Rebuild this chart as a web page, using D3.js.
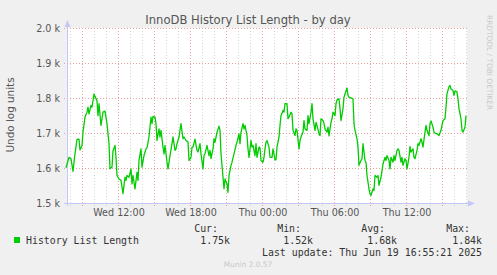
<!DOCTYPE html>
<html>
<head>
<meta charset="utf-8">
<script src="https://d3js.org/d3.v7.min.js"></script>
<style>
body{margin:0;background:#f0f0f0}
svg{display:block;font-family:'DejaVu Sans',sans-serif}
.mono{font-family:'DejaVu Sans Mono',monospace}
</style>
</head>
<body>
<div id="chart"></div>
<script>
// 5 minute steps counted from Wed 18 Jun 07:40
const steps = [
  0,3,5,7,9,11,13,14,16,17, 19,21,22,23,25,26,28,29,31,32,
  33,35,36,37,39,41,43,44,46,47, 49,50,51,53,55,57,59,60,61,63,
  65,66,67,69,71,72,73,75,76,78, 80,81,83,85,86,87,89,90,91,93,
  94,95,97,98,99,101,102,104,106,107, 109,110,111,113,115,117,118,120,122,123,
  125,126,127,129,131,132,134,135,137,138, 139,141,143,144,145,147,148,149,151,153,
  154,155,157,158,159,161,162,163,165,166, 168,170,171,173,174,175,177,178,179,181,
  182,183,185,186,187,189,190,191,193,194, 195,197,198,199,
  200,201,203,204,206,207,209,210,211,213, 214,215,217,218,219,221,222,223,225,226,
  227,229,230,231,233,234,235,237,238,239, 241,242,243,245,246,247,249,250,251,253,
  254,255,257,258,259,261,262,263,265,266, 267,269,270,271,273,274,275,277,278,279,
  281,282,283,285,287,288,289,291,292,293, 295,296,297,299,300,301,303,304,305,307,
  308,309,311,312,313,315,316,317,319,320, 321,323,324,325,327,328,329,331,332,333,
  335,336,337,339,340,341,343,344,345,347, 348,349,351,352,353,355,356,357,359,360,
  361,363,364,365,367,368,369,371,372,373, 375,376,377,379,380,381,383,384,385,387,
  388,389,391,392,393,395,396,397,399,400
];
const historyLen = [
  1602,1632,1628,1592,1642,1683,1684,1653,1666,1704, 1747,1761,1775,1756,1780,1775,1813,1806,1794,1751,
  1785,1723,1742,1761,1764,1728,1671,1599,1604,1651, 1666,1632,1580,1570,1566,1528,1575,1566,1580,1575,
  1599,1556,1580,1542,1589,1566,1623,1656,1604,1637, 1656,1659,1690,1747,1728,1749,1747,1728,1680,1713,
  1690,1709,1661,1642,1666,1618,1599,1637,1671,1690, 1652,1656,1671,1690,1728,1685,1690,1680,1676,1623,
  1632,1661,1661,1684,1652,1647,1671,1642,1599,1637, 1642,1666,1637,1652,1628,1656,1685,1675,1704,1721,
  1709,1642,1575,1542,1570,1556,1532,1580,1609,1618, 1642,1666,1675,1699,1671,1704,1728,1713,1723,1694,
  1656,1632,1680,1661,1666,1637,1671,1632,1661,1659, 1623,1618,1632,1656,
  1675,1680,1661,1632,1632,1656,1625,1625,1661,1690, 1723,1751,1766,1761,1785,1785,1742,1747,1761,1756,
  1709,1694,1713,1709,1656,1680,1690,1704,1737,1713, 1709,1751,1728,1761,1785,1742,1709,1732,1723,1699,
  1694,1742,1737,1729,1713,1704,1718,1693,1732,1742, 1761,1751,1785,1796,1799,1771,1737,1771,1804,1813,
  1830,1809,1804,1802,1799,1728,1709,1685,1661,1609, 1623,1628,1671,1623,1618,1580,1542,1528,1523,1542,
  1537,1580,1575,1580,1552,1575,1594,1613,1632,1623, 1637,1623,1599,1632,1618,1637,1623,1652,1656,1652,
  1618,1632,1609,1628,1623,1599,1632,1663,1647,1656, 1632,1628,1652,1671,1666,1685,1675,1661,1704,1723,
  1709,1694,1728,1736,1718,1704,1701,1699,1697,1694, 1709,1723,1737,1742,1775,1813,1834,1837,1827,1823,
  1809,1822,1819,1799,1771,1742,1709,1704,1718,1751
];
const yTicks = [1500, 1600, 1700, 1800, 1900, 2000];
const legendHeads = ["Cur:", "Min:", "Avg:", "Max:"];
const legendVals = ["1.75k", "1.52k", "1.68k", "1.84k"];

const W = 497, H = 275;
const t0 = new Date(2025, 5, 18, 7, 40);
const stepTime = s => new Date(t0.getTime() + s * 300000);

const svg = d3.select("#chart").append("svg").attr("width", W).attr("height", H);
svg.append("rect").attr("width", W).attr("height", H).attr("fill", "#f0f0f0");

const x = d3.scaleTime().domain([stepTime(1), stepTime(401)]).range([67, 467]);
const y = d3.scaleLinear().domain([1500, 2000]).range([203.5, 28.5]);

svg.append("rect").attr("x", 67).attr("y", 28).attr("width", 400).attr("height", 175).attr("fill", "#fff");

// minor vertical grid (hourly)
const hours = d3.timeHour.every(1).range(x.domain()[0], x.domain()[1]);
svg.append("g").selectAll("line").data(hours.filter(d => d.getHours() % 3 !== 0)).join("line")
  .attr("x1", d => Math.round(x(d)) + 0.5).attr("x2", d => Math.round(x(d)) + 0.5)
  .attr("y1", 28).attr("y2", 206)
  .attr("stroke", "#d6d6d6").attr("stroke-dasharray", "1,2");

// major vertical grid (3 hours)
svg.append("g").selectAll("line").data(hours.filter(d => d.getHours() % 3 === 0)).join("line")
  .attr("x1", d => Math.round(x(d)) + 0.5).attr("x2", d => Math.round(x(d)) + 0.5)
  .attr("y1", 28).attr("y2", 206)
  .attr("stroke", "#eba0a0").attr("stroke-dasharray", "1,2");

// horizontal grid
svg.append("g").selectAll("line").data(yTicks).join("line")
  .attr("x1", 64).attr("x2", 467)
  .attr("y1", d => y(d)).attr("y2", d => y(d))
  .attr("stroke", "#eba0a0").attr("stroke-dasharray", "1,2");

// axes
const axisCol = "#c4c8f4";
svg.append("line").attr("x1", 67.5).attr("x2", 67.5).attr("y1", 25).attr("y2", 206).attr("stroke", axisCol);
svg.append("line").attr("x1", 64).attr("x2", 470).attr("y1", 203.5).attr("y2", 203.5).attr("stroke", axisCol);
svg.append("path").attr("d", "M64.5,27 L67.5,20 L70.5,27 Z").attr("fill", axisCol);
svg.append("path").attr("d", "M468,200.5 L475,203.5 L468,206.5 Z").attr("fill", axisCol);

// y labels
svg.append("g").selectAll("text").data(yTicks).join("text")
  .attr("x", 60).attr("y", d => y(d) + 3.5)
  .attr("text-anchor", "end").attr("font-size", 9.6).attr("fill", "#555")
  .text(d => (d / 1000).toFixed(1) + " k");

// x labels
const fmt = d3.timeFormat("%a %H:%M");
svg.append("g").selectAll("text").data(hours.filter(d => d.getHours() % 6 === 0)).join("text")
  .attr("x", d => x(d) + 1).attr("y", 216)
  .attr("text-anchor", "middle").attr("font-size", 9.6).attr("fill", "#555")
  .text(fmt);

// series
const pts = steps.map((s, i) => [stepTime(s), historyLen[i]]);
svg.append("path").datum(pts)
  .attr("fill", "none").attr("stroke", "#00cc00").attr("stroke-width", 1.3)
  .attr("stroke-linejoin", "round")
  .attr("d", d3.line().x(d => x(d[0])).y(d => y(d[1])));

// title
svg.append("text").attr("x", 248).attr("y", 24).attr("text-anchor", "middle")
  .attr("font-size", 11.6).attr("fill", "#555").text("InnoDB History List Length - by day");

svg.append("text").attr("transform", "translate(14,115) rotate(-90)")
  .attr("text-anchor", "middle").attr("font-size", 10.4).attr("fill", "#555").text("Undo log units");

svg.append("text").attr("transform", "translate(487,15) rotate(90)")
  .attr("font-size", 7.4).attr("fill", "#c8c8c8").text("RRDTOOL / TOBI OETIKER");

// legend
svg.append("rect").attr("x", 14).attr("y", 237).attr("width", 6).attr("height", 6).attr("fill", "#00cc00");
svg.append("text").attr("class", "mono").attr("x", 26).attr("y", 243.5)
  .attr("font-size", 9.9).attr("fill", "#333").text("History List Length");

const colR = [218, 301, 385, 470];
svg.append("g").selectAll("text").data(legendHeads).join("text").attr("class", "mono")
  .attr("x", (d, i) => colR[i]).attr("y", 231.5).attr("text-anchor", "end")
  .attr("font-size", 9.9).attr("fill", "#333").text(d => d);
svg.append("g").selectAll("text").data(legendVals).join("text").attr("class", "mono")
  .attr("x", (d, i) => colR[i] + 12).attr("y", 243.5).attr("text-anchor", "end")
  .attr("font-size", 9.9).attr("fill", "#333").text(d => d);

svg.append("text").attr("class", "mono").attr("x", 482).attr("y", 255.5).attr("text-anchor", "end")
  .attr("font-size", 9.9).attr("fill", "#333").text("Last update: Thu Jun 19 16:55:21 2025");

svg.append("text").attr("x", 248).attr("y", 267).attr("text-anchor", "middle")
  .attr("font-size", 7.4).attr("fill", "#c8c8c8").text("Munin 2.0.57");
</script>
</body>
</html>
